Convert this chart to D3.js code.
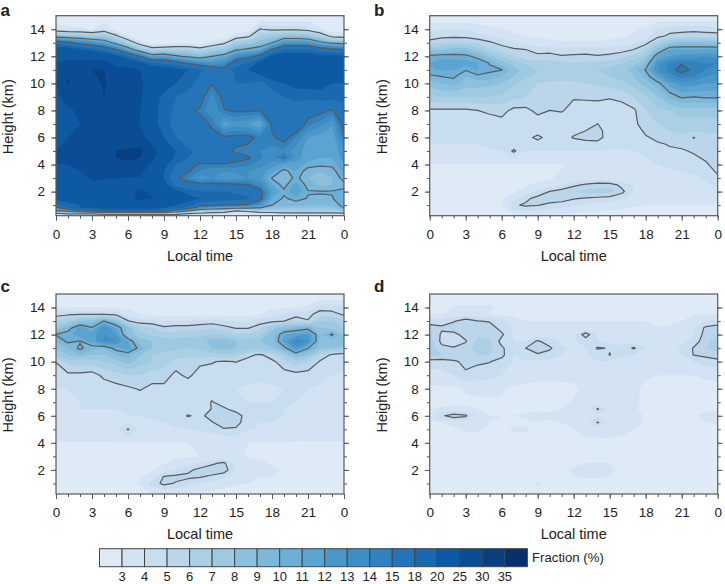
<!DOCTYPE html>
<html><head><meta charset="utf-8">
<script src="https://cdn.jsdelivr.net/npm/d3@7"></script>
<style>html,body{margin:0;background:#fff}svg{display:block}text{font-family:"Liberation Sans",Arial,sans-serif;fill:#222}</style>
</head><body><svg id="c" width="725" height="584"></svg>
<script>
const levels=[3,4,5,6,7,8,9,10,11,12,13,14,15,18,20,25,30,35];
const fills=["#deebf7","#d3e3f3","#c8ddf0","#bbd6eb","#abd0e6","#9ecae1","#8cc0dd","#7db8da","#6caed6","#5ba3d0","#4b97c9","#3f8dc3","#3282be","#2474b7","#1a68ae","#0d5aa3","#0a4d94","#093f80","#08306b"];
const lineLevels=[5,10,15];
const timeTicks=[0,3,6,9,12,15,18,21,24];
const heightTicks=[2,4,6,8,10,12,14];
const panelLetters=["a","b","c","d"];
const heightsA=[0.2,0.4,0.6,0.8,1,1.5,2,2.5,3,3.5,4,4.5,5,6,7,8,9,10,11,11.5,12,12.5,13,13.5,14,15];
const heightsB=[0.2,1,1.5,2,2.5,3,4,5,5.5,6,6.5,7,8,9,10,10.5,11,11.5,12,12.5,13,13.5,14,15];
const panelA=[
[3,3,3,3,2.5,2.5,2.5,2.5,2.5,2.5,2.5,2.5,2.5,2.5,2.5,2.5,2.5,2.5,3,3,3,3,3,3,3],
[5,5.5,5.5,5.5,6.5,6.5,6.5,6.5,6.5,7.5,7,5.5,5,4.2,4,3.5,3.5,4,4.3,4.7,4.7,4.7,4.7,4.7,4.8],
[10.2,12,15.3,16.5,19,19,19,19,19,17,13.5,10.5,8,7.8,7,5.2,5.8,7.2,6.8,7,7,7,7,7,8],
[13.5,18,20,20,21,21,21,21,21,20,19,17,12.5,11.6,11,10.8,10.3,10,8.5,8.2,8.2,8.2,8.2,8.2,10],
[17,19,20,21,21.5,22,22,22.5,22,22,20,19,16,15.7,15.1,14.8,14.5,12.5,10,9.3,9.2,9.2,9.2,9.2,10.5],
[21,21.5,22,23,23,24,24,26,25.2,24,22,21,20,20,19.5,19,18.5,16,11,9.8,10.6,9.9,9.8,9.9,11],
[21,21,22,23,23,24,24,25.5,24.5,23.5,21,19,18,18,18,17.5,17,15.8,12,10.3,12,10.1,10.1,10.1,10.3],
[22,22,23,24.5,24,24,24,24,23,21,17,16,15.8,15.6,15.5,15.3,15.1,13.5,11,9.5,11.5,9.5,8.8,9,9.6],
[21,22,24,25.5,25.2,25.1,24.8,24.8,23,20,15.5,14,12.5,13,12.5,12.5,13,12.5,9.9,9,10.4,9,8.3,9,10.5],
[22,23,25,26,27,27,27,26,23,20,17,15.2,13.8,13,13,13.2,13,12.5,11.5,9.4,11,9.3,9,9.3,11.5],
[25,25,26,27,28,29,29,28,24,21,18,15.6,14.8,14.8,14.9,14.6,14.2,13.5,12.5,11.5,11.5,10.6,10.3,10.4,12],
[25,26,27,28,29,30,31,30,26,22,19.5,18,16.5,16,15.8,15.6,15.2,14.2,13.5,15.1,12.5,11.5,11,11,12.5],
[25,26,27,28,29,30,31,31,27,22,20,18.5,17.5,17,15.4,14.8,14.4,14,13.5,13.8,12.5,11.5,11,11,13],
[23,25,25,26,26,25,26,27,23,20,18,16.5,16,15.4,15.3,15.5,15.6,14.5,14.8,15.7,14,12,11.5,11,14.9],
[23,24,25,26,27,26,27,25,21,19,17,16.3,15.6,14.8,11.5,12.5,12,11,15.3,17,17,14.4,13.5,12.3,15.8],
[22,24,26,26,27,27,26,25,21,19,17.5,15.3,14.8,13,14.9,15.3,15.3,15.05,16,17,17,16,15.6,14.8,16.5],
[24,27,27,27,30,27,27,26,21,19.5,18,17,15.8,13.5,15.6,17,17,16.5,17,18,18.5,18.5,19,19,19],
[25,30.5,27,28,30.5,28,27,26,22,21,20,19,17,15.1,15.8,18,18,17,19,20,21,21,21,20,20],
[24,29,28,30,30,26,26,25,23,22,21,20,18.5,17,15.6,19,20,22,23.5,23.5,24,23.5,23,22,22],
[25,26,26,26,26,24,23,21,18,17.4,16.2,14.5,13.2,12.6,13.2,16.5,18,21,23,23.5,23.5,23.5,23,22.5,22],
[23,24,24,24,24,21,18,15,11.4,11.7,10.4,9.6,8.8,10,10.9,13.3,14.2,15.8,21,22,22,22,21,21,21],
[22,22,20.5,19,17.4,15,11.4,8.2,6,6.4,6.5,6.5,5.8,6.9,7.6,9.7,10.4,11,15,18,18,18,16.5,15.6,15],
[16.8,15.6,14,13,11.5,9.2,6.7,3.9,2.4,2.5,2.9,2.9,2.4,3.5,4.6,7,7.5,8.6,10,12.7,12.7,12.5,10.6,9.6,9],
[8.75,8.1,7.8,7.2,7.5,5.4,2.9,2,2,2,2,2,2,2,2,3.9,4.6,6.8,7.4,8.4,8.4,8,6.5,4.4,4],
[3.6,3.2,3.2,2.9,3.9,2.2,2,1.9,1.9,1.9,1.9,1.9,1.9,1.9,1.9,2,2,5.1,4.6,4.6,4.6,4.3,3.2,2.2,2.1],
[2,2,2,2,2,2,2,2,2,2,2,2,2,2,2,2,2,2,2,2,2,2,2,2,2]];
const panelB=[
[2.4,2.4,2.4,2.4,2.4,2.4,2.5,2.8,3,3,2.9,2.7,2.6,2.6,2.6,2.5,2.5,2.5,2.5,2.5,2.5,2.5,2.5,2.5,2.5],
[2.5,2.5,2.5,2.5,2.6,2.8,3,4.8,5.2,5.05,4.7,4.5,4.1,3.8,3.6,3.4,3.3,3.1,3,3,3,3,3,3,3],
[2.6,2.6,2.6,2.6,2.7,2.9,2.9,3.6,4.7,5.4,5.6,5.5,5.1,4.9,4.7,4.5,4.2,3.6,3.2,3.1,3.1,3.1,3.1,3.2,3.3],
[2.7,2.7,2.7,2.7,2.8,2.9,2.9,2.9,3.4,4.2,5.05,5.6,6,6.3,6.5,6.4,5.3,4,3.2,3.2,3.4,3.4,3.4,3.5,3.7],
[2.8,2.8,2.8,2.8,2.8,2.8,2.8,2.8,2.9,3.2,3.5,3.8,4.7,5.2,5.6,5.5,4.7,3.9,3.3,3.3,3.5,3.5,3.5,3.8,4.2],
[2.8,2.8,2.8,2.8,2.8,2.8,2.8,2.8,2.8,2.8,2.9,3.2,3.3,3.3,3.3,3.3,3.3,3.3,3.3,3.4,3.6,3.7,3.8,4.2,4.9],
[2.95,2.95,2.95,2.95,2.95,2.95,2.95,2.95,2.95,2.95,2.95,2.95,3.2,3.3,3.3,3.3,3.4,3.5,3.8,4,4.2,4.3,4.6,4.9,5.3],
[3.7,3.7,3.8,3.8,3.8,3.9,3.9,5.2,4,4,4,4,4,4,4,3.9,3.9,4,4.2,4.6,4.9,4.9,5.1,5.3,5.4],
[3.9,4,4,4,4,4.2,4.4,4.4,4.4,4.5,4.3,4.2,4.3,4.6,4.7,4.3,4.2,4.1,4.3,4.9,5.05,5.2,5.3,5.3,5.5],
[4.2,4.4,4.4,4.4,4.5,4.5,4.4,4.4,4.6,5.3,4.5,4.5,5.1,5.3,5.3,4.6,4.6,4.4,4.9,5.2,5.5,5.7,4.95,5.6,5.6],
[4.3,4.4,4.5,4.5,4.5,4.5,4.4,4.3,4.4,4.5,4.4,4.4,4.7,5,5.2,4.7,4.7,4.5,5.2,5.8,6,6.3,6.2,6.2,6.2],
[4.3,4.3,4.4,4.4,4.3,4.5,4.6,4.3,4.3,4.4,4.3,4.3,4.3,4.3,5.02,4.4,4.5,4.7,5.6,6,6.3,6.6,6.6,6.6,6.5],
[4.8,4.8,4.8,4.8,5,5.2,5.4,4.7,4.7,5.3,5,5.1,4.6,4.4,4.3,4.4,4.5,4.8,6,6.8,7,7.5,7.5,7.5,7.5],
[6.8,7,7,7,7,7,6.8,6.3,6,5.7,5.5,5.5,5.1,5.2,5.3,5.1,5.3,6,6.8,8,9.3,10.2,10,10.2,10.2],
[8.5,9,9.5,8.5,8.5,8.3,8,7.2,6.5,6,5.8,5.8,5.8,6,6.2,6.5,6.8,7.5,8.5,9.6,11.5,12.5,12.5,12,12],
[9.7,10,10.2,9,9.7,9.5,9,8,7.2,6.8,6.5,6.3,6.3,6.5,6.8,7,7.3,8,9.3,11.5,13.5,14.5,14,13,12.5],
[10.8,11.2,11,10.1,11,10.3,10.05,8.5,7.5,7,6.8,6.5,6.5,6.8,7,7.2,7.5,8.5,10.1,13,14.5,15.6,14.7,14,13.5],
[11,11.5,11.5,11.5,11,9.9,8.5,7.5,6.8,6.5,6.3,6.2,6,6.2,6.3,6.5,7,7.5,9,12.5,14,14.9,14.5,14,14],
[10.4,10.6,10.6,10.4,9.5,8,7,6,5.4,5.3,5.5,5.1,5.2,5.3,5.1,5.3,5.6,6.4,7.5,11,12,12.5,12.5,13,12.5],
[7.5,8,8.5,8.5,7.5,6.2,5.6,5.2,5,4.5,4.4,4.3,4.4,4.4,4.3,4.4,4.6,5,6.2,8.5,11,11,11,11,11],
[5.6,6,6.2,6.2,5.8,5.2,4.6,4,3.6,3.3,3.2,3.1,3.1,3.1,3.1,3.2,3.4,3.8,4.6,6.5,8,8.5,8.5,8.5,8.2],
[4.2,4.6,4.7,4.6,4.3,4,3.6,3.2,3,2.9,2.8,2.7,2.7,2.7,2.7,2.8,2.9,3.1,3.6,4.6,5.3,5.6,5.7,5.6,5.5],
[3.8,4,4,4,3.6,3.3,3,2.8,2.7,2.6,2.5,2.5,2.5,2.5,2.5,2.6,2.7,2.9,3.2,4,4.5,4.5,4.6,4.5,4.4],
[2,2,2,2,2,2,2,2,2,2,2,2,2,2,2,2,2,2,2,2,2,2,2,2,2]];
const panelC=[
[2.6,2.6,2.6,2.6,2.6,2.6,2.6,2.7,3,3,3,2.8,2.7,2.7,2.6,2.6,2.6,2.6,2.6,2.6,2.6,2.6,2.6,2.6,2.6],
[2.7,2.7,2.7,2.7,2.7,2.7,2.8,3.1,4.4,5.3,4.9,4.3,4,3.6,3.3,3.1,3,2.9,2.8,2.8,2.8,2.7,2.7,2.7,2.7],
[2.8,2.8,2.8,2.8,2.8,2.8,2.8,2.9,3.4,5.1,5.3,5.3,5.1,4.8,4.2,3.5,3.3,3,3,2.9,2.8,2.8,2.8,2.8,2.8],
[2.8,2.8,2.8,2.8,2.8,2.8,2.8,2.8,2.9,3.4,4,4.7,5.4,5.6,5.6,3.8,3.6,3.5,3.2,2.95,2.95,2.95,2.95,2.9,2.9],
[2.7,2.7,2.7,2.7,2.7,2.7,2.7,2.7,2.8,2.95,3.2,3.5,4,4.8,5.2,3.6,3.2,3.1,2.95,2.9,2.8,2.8,2.8,2.8,2.8],
[2.8,2.8,2.8,2.8,2.8,2.8,2.8,2.8,2.8,2.8,2.9,2.95,3,3.1,3.3,3.1,2.95,2.9,2.8,2.8,2.8,2.8,2.8,2.8,2.8],
[2.95,2.95,2.95,2.95,2.95,2.95,2.95,2.95,2.95,2.95,2.95,3,3.1,3.1,3.1,3.1,3,3,2.95,2.95,2.95,2.95,2.95,2.95,2.95],
[3.6,3.6,3.6,3.6,3.6,3.7,5.1,3.8,3.8,3.8,3.9,4,4.2,4.3,4.9,4.8,4.1,3.9,3.8,3.7,3.6,3.5,3.4,3.4,3.4],
[3.6,3.6,3.7,3.7,3.7,3.7,3.8,3.8,3.9,4,4.2,4.3,4.5,4.9,5.7,5.5,4.2,4,4,3.8,3.7,3.6,3.5,3.5,3.5],
[3.9,3.9,3.9,3.9,3.9,3.9,4,4,4.1,4.2,4.3,5.1,4.7,5.5,6,5.6,4.4,4.2,4.2,4,3.9,3.7,3.7,3.7,3.7],
[3.9,3.9,4,4,4,4,4.2,4.2,4.2,4.2,4.2,4.3,4.4,5.05,5.2,4.5,4.2,4.2,4.1,4,3.9,3.8,3.8,3.7,3.7],
[3.8,3.9,4,4,4,4,4.3,4.3,4.2,4.2,4.1,4.1,4.2,5.1,4.4,4.1,4,4,4,4,4,3.9,3.8,3.7,3.7],
[4,4,4,4.1,4.3,4.6,4.8,5.1,4.7,4.7,4.1,4.1,4.2,4.2,4.1,4,3.9,3.9,3.9,4,4,4,3.9,3.8,3.8],
[4.3,4.7,4.7,4.5,5.3,5.6,6,6,5.5,5.5,4.7,5.3,4.4,4.4,4.4,4.3,4.2,4.1,4.2,4.5,4.6,4.5,4.2,4,3.9],
[5.05,6.5,6.5,6.5,7,7.5,8.5,7.5,7,6.5,5.6,5.4,5.3,5.1,4.8,5.05,4.6,4.4,4.7,5.7,6.5,6,4.9,4.4,4.2],
[7.5,8,9,8,8,9,9.3,8,7,6.5,6.5,6.5,6.3,6.5,7,6.5,5.3,4.8,5.7,7,9,8,5.7,4.8,4.2],
[8,9,10.3,9.2,9,10.5,11.5,9.5,8,7.5,7.2,7,7.2,8,8.5,8,7.5,7.5,8,9.5,12.5,10.1,8.5,8,7.8],
[9,10.3,9.9,11.5,13,13,11,8.5,8,7.5,7.5,7.5,7.5,8.5,9,8,7.5,8,8.5,11.5,14,13,8.5,8.5,8.5],
[10.1,10.7,11.5,11.5,13,12,8.5,7.5,6.8,6.5,6.5,6.7,6.8,7,6.8,6.3,6.2,6.8,8.5,10.9,11.5,12,9,10.2,8],
[7.5,9.3,11.5,10.1,13,11,8.5,6.5,6,5.2,5.5,5.5,5.7,5.9,5.4,4.9,4.9,5.7,7.5,8.6,9,9.5,8,7.5,7],
[6,6.8,8,8.5,10.05,8.5,5.1,4.3,4.3,4,4,4,4.2,4.4,4.1,3.9,3.9,4.4,4.7,5,5.5,5.1,7,7,6.3],
[4.6,4.8,5,4.95,4.9,4.7,3.5,3,2.8,2.7,2.7,2.7,2.8,2.8,2.7,2.7,2.7,3,3.5,4,4.7,4.6,5.6,5.5,4.8],
[3,3,3,3,3,3,2.8,2.7,2.6,2.5,2.5,2.5,2.5,2.5,2.5,2.5,2.5,2.6,2.8,3,3,3.2,4.5,4.4,4.2],
[2,2,2,2,2,2,2,2,2,2,2,2,2,2,2,2,2,2,2,2,2,2,2,2,2]];
const panelD=[
[2.6,2.6,2.6,2.6,2.6,2.6,2.6,2.6,2.6,2.6,2.6,2.6,2.6,2.6,2.6,2.6,2.6,2.6,2.6,2.6,2.6,2.6,2.6,2.6,2.6],
[2.7,2.7,2.7,2.7,2.7,2.7,2.7,2.7,2.8,3.1,2.8,2.7,2.7,2.7,2.7,2.7,2.7,2.7,2.7,2.7,2.7,2.7,2.7,2.7,2.7],
[2.7,2.7,2.7,2.7,2.7,2.7,2.7,2.7,2.7,2.8,2.7,2.7,3,3.1,3.1,3,2.8,2.7,2.7,2.7,2.7,2.7,2.7,2.7,2.7],
[2.8,2.8,2.8,2.8,2.8,2.8,2.8,2.8,2.8,2.8,2.8,2.8,3.1,3.1,3.1,3.1,2.9,2.8,2.8,2.8,2.8,2.8,2.8,2.8,2.8],
[2.7,2.7,2.7,2.7,2.7,2.7,2.7,2.7,2.7,2.7,2.7,2.7,2.9,3,3.05,3,2.8,2.7,2.7,2.7,2.7,2.7,2.7,2.7,2.7],
[2.7,2.7,2.7,2.7,2.7,2.7,2.7,2.7,2.7,2.7,2.7,2.7,2.7,2.7,2.7,2.7,2.7,2.7,2.7,2.7,2.7,2.7,2.7,2.7,2.7],
[2.7,2.7,2.7,2.7,2.7,2.7,2.7,2.7,2.7,2.7,2.7,2.7,2.7,2.8,2.8,2.8,2.7,2.7,2.7,2.7,2.7,2.7,2.7,2.7,2.7],
[2.8,2.8,2.8,3.1,3.1,2.8,2.8,3.1,3.1,2.8,2.8,2.8,3,3.3,3.4,3.4,3.3,3,2.8,2.8,2.8,2.8,2.8,2.8,2.8],
[2.9,3,3.4,3.4,3.2,3,2.9,2.9,2.9,3,2.9,3,3.2,3.6,5.1,3.7,3.6,3.2,2.9,2.8,2.8,2.8,2.9,3,3.1],
[3.2,4.8,5.6,5.2,3.2,3,3,3,3.1,3.2,3.1,3.2,3.4,3.6,3.8,3.6,3.7,3.3,2.9,2.8,2.8,2.8,2.9,3.2,3.2],
[3,3.1,3.2,3.2,3,2.9,2.9,2.9,2.9,2.9,2.9,3,3.3,3.6,5.1,3.7,3.5,3.1,2.8,2.8,2.8,2.8,2.8,2.9,2.9],
[2.8,2.8,2.8,2.8,2.8,2.8,2.8,2.8,2.8,2.8,2.8,2.8,3.1,3.3,3.5,3.4,3.3,3.2,2.8,2.8,2.8,2.8,2.8,2.8,2.8],
[2.8,2.8,2.8,3.1,3.3,3.4,3.2,2.8,2.8,2.8,2.8,2.8,2.8,3.2,3.5,3.5,3.5,3.2,2.8,2.8,2.8,2.8,2.8,2.8,2.8],
[3.5,3.7,4,4.8,4.4,4.3,4,3.6,3.3,3.2,3.2,3.2,3.3,3.4,3.7,3.7,3.7,3.5,3.1,3,3,3,3,3.1,3.2],
[4.5,4.5,4.8,5.3,5.2,5.05,4.6,3.9,3.8,3.8,3.8,3.7,3.7,3.8,4,3.9,3.8,3.7,3.5,3.5,3.5,3.6,4,4.6,4.6],
[6.5,6,5.8,5.9,6,6,5.3,4,4.7,4.8,4.5,4,3.8,3.9,4.2,5.05,4.1,4,3.8,3.7,3.7,4,5.05,5.2,5.7],
[7,5.3,5.1,5.5,6.5,6.3,5.2,4.2,5,5.9,5.2,4.1,3.9,4,5.15,4.9,4.2,5.15,4,3.8,3.8,4.1,5.1,5.9,6.8],
[6.5,4.7,4.4,4.9,6.3,6.2,4.6,4,4,5.2,4.4,3.8,3.9,4.3,4,3.7,3.8,3.7,3.5,3.4,3.5,3.8,4.3,5.8,6.5],
[6.3,4.8,4.7,5.4,5.8,5.7,5.2,3.9,3.6,3.5,3.4,3.4,3.8,5.6,3.8,3.6,3.6,3.4,3.3,3.2,3.3,3.6,3.9,5.5,6],
[5.6,5.2,5.5,5.5,5.6,5.5,4.6,3.8,3.4,3.2,3.2,3.2,3.2,3.2,3.2,3.2,3.2,3.2,3.1,3,3.1,3.5,4,5.2,5.5],
[4.3,4.5,4.9,5.6,5.05,4.9,4.2,3.4,3,3,3,3,3,3,3,3,3,3,3,2.9,2.9,3,3.4,4,4.3],
[3,3,3.2,3.5,3.2,3,2.8,2.8,2.8,2.8,2.8,2.8,2.7,2.7,2.7,2.7,2.7,2.7,2.7,2.7,2.7,2.7,3,3,3],
[2.5,2.5,3.2,3.2,3.2,3.2,2.5,2.5,2.5,2.5,2.5,2.5,2.5,2.5,2.5,2.5,2.5,2.5,2.5,2.5,2.5,2.5,2.5,2.5,2.5],
[2,2,2,2,2,2,2,2,2,2,2,2,2,2,2,2,2,2,2,2,2,2,2,2,2]];

const frame="#595959";
const svg=d3.select("#c");
const panels=[
 {grid:panelA,hs:heightsA,x0:56,y0:15.7,lx:0.5,ly:15.5},
 {grid:panelB,hs:heightsB,x0:429.7,y0:15.7,lx:374,ly:15.5},
 {grid:panelC,hs:heightsB,x0:56,y0:294,lx:0.5,ly:292},
 {grid:panelD,hs:heightsB,x0:429.7,y0:294,lx:374,ly:292}];
const W=288,H=200;
panels.forEach((p,pi)=>{
 const g=svg.append("g").attr("transform",`translate(${p.x0},${p.y0})`);
 const X=d3.scaleLinear().domain([0,24]).range([0,W]);
 const Y=d3.scaleLinear().domain([0.22,15]).range([H,0]);
 const nx=p.grid[0].length,ny=p.hs.length;
 const rowH=d3.scaleLinear().domain(d3.range(ny)).range(p.hs);
 const values=p.grid.flat();
 const path=d3.geoPath(d3.geoTransform({point(x,y){this.stream.point(X(x-0.5),Y(rowH(y-0.5)));}}));
 const cid="clip"+pi;
 g.append("clipPath").attr("id",cid).append("rect").attr("width",W).attr("height",H);
 const plot=g.append("g").attr("clip-path",`url(#${cid})`);
 plot.append("rect").attr("width",W).attr("height",H).attr("fill",fills[0]);
 const gen=d3.contours().size([nx,ny]).smooth(true);
 plot.selectAll("path.f").data(gen.thresholds(levels)(values)).join("path")
  .attr("class","f").attr("d",path).attr("fill",(d,i)=>fills[i+1]).attr("stroke","none");
 plot.selectAll("path.l").data(gen.thresholds(lineLevels)(values)).join("path")
  .attr("class","l").attr("d",path).attr("fill","none").attr("stroke","#5a5a5a").attr("stroke-width",1.2).attr("stroke-linejoin","round");
 const sty=s=>{s.select(".domain").remove();s.selectAll("line").attr("stroke",frame).attr("stroke-width",1);s.selectAll("text").attr("fill","#222").style("font-size","13.5px");};
 g.append("g").attr("transform",`translate(0,${H})`).call(d3.axisBottom(X).tickValues(d3.range(0,25)).tickSize(3).tickFormat("")).call(sty);
 g.append("g").attr("transform",`translate(0,${H})`).call(d3.axisBottom(X).tickValues(timeTicks).tickSize(5).tickPadding(8.5).tickFormat(t=>t%24)).call(sty);
 const minor=d3.range(1,15);
 g.append("g").call(d3.axisLeft(Y).tickValues(minor).tickSize(3).tickFormat("")).call(sty);
 g.append("g").call(d3.axisLeft(Y).tickValues(heightTicks).tickSize(5).tickPadding(6)).call(sty);
 g.append("g").attr("transform",`translate(${W},0)`).call(d3.axisRight(Y).tickValues(minor).tickSize(3).tickFormat("")).call(sty);
 g.append("g").attr("transform",`translate(${W},0)`).call(d3.axisRight(Y).tickValues(heightTicks).tickSize(5).tickFormat("")).call(sty);
 g.append("rect").attr("width",W).attr("height",H).attr("fill","none").attr("stroke",frame).attr("stroke-width",1.2);
 g.append("text").attr("x",W/2).attr("y",H+45).attr("text-anchor","middle").style("font-size","14.5px").text("Local time");
 g.append("text").attr("transform",`translate(-43,${H/2+1}) rotate(-90)`).attr("text-anchor","middle").style("font-size","14.5px").text("Height (km)");
 svg.append("text").attr("x",p.lx).attr("y",p.ly).style("font-size","17px").style("font-weight","bold").text(panelLetters[pi]);
});
// colour bar
const bx=99.5,bw=22.52,by=548.7,bh=18;
const LX=d3.scaleLinear().domain([0,fills.length]).range([bx,bx+bw*fills.length]);
const bar=svg.append("g");
bar.selectAll("rect").data(fills).join("rect").attr("x",(d,i)=>LX(i)).attr("y",by).attr("width",bw).attr("height",bh).attr("fill",d=>d).attr("stroke","#444").attr("stroke-width",1);
bar.selectAll("text").data(levels).join("text").attr("x",(d,i)=>LX(i+1)).attr("y",581).attr("text-anchor","middle").style("font-size","13px").text(d=>d);
svg.append("text").attr("x",532).attr("y",562).style("font-size","13.2px").text("Fraction (%)");
</script></body></html>
